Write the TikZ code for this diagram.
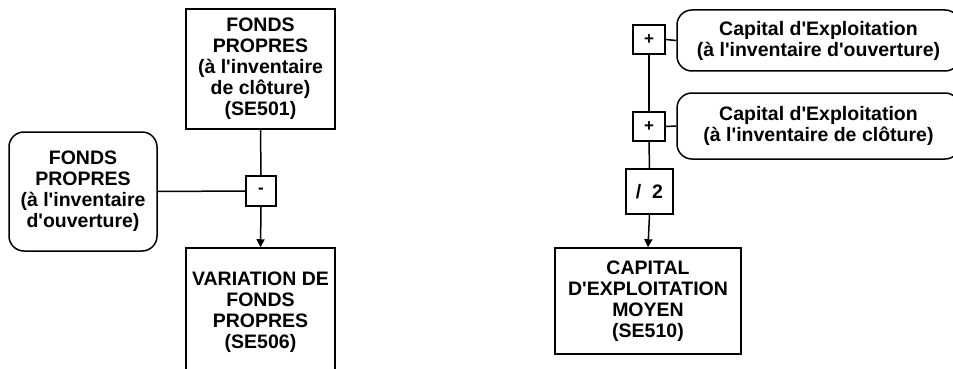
\documentclass[tikz,border=0pt]{standalone}
\usepackage{fontspec}
\setmainfont{Liberation Sans}[Ligatures=TeXOff]
\usetikzlibrary{arrows.meta}
\begin{document}
\begin{tikzpicture}[x=1pt,y=-1pt,
  every node/.style={font=\bfseries\fontsize{19.5}{21}\selectfont, align=center, inner sep=0pt, line width=1.5pt},
  sqbox/.style={draw, rectangle},
  rbox/.style={draw, rectangle, rounded corners=15pt},
  opbox/.style={draw, rectangle, font=\bfseries\fontsize{17}{19}\selectfont},
  conn/.style={line width=1.5pt},
  arr/.style={line width=1.5pt, -{Triangle[width=8pt,length=8pt]}}
]
\clip (0,0) rectangle (953,369);
\fill[white] (0,0) rectangle (953,369);

% left diagram
\node[sqbox, minimum width=149pt, minimum height=120pt] (top1) at (260.5,69) {FONDS\\PROPRES\\(à l'inventaire\\de clôture)\\(SE501)};
\node[rbox, minimum width=148pt, minimum height=119pt] (left1) at (83,191.5) {FONDS\\PROPRES\\(à l'inventaire\\d'ouverture)};
\node[opbox, minimum width=30pt, minimum height=30pt] (minus) at (261,191) {-};
\node[sqbox, minimum width=149pt, minimum height=128pt] (bot1) at (260.5,312) {VARIATION DE\\FONDS\\PROPRES\\(SE506)};

\draw[conn] (top1.south) -- (minus.north);
\draw[conn] (left1.east) -- (minus.west);
\draw[arr] (minus.south) -- (bot1.north);

% right diagram
\node[opbox, minimum width=32pt, minimum height=29pt] (plus1) at (649,39.5) {+};
\node[rbox, minimum width=283pt, minimum height=61pt] (cap1) at (818.5,40.5) {Capital d'Exploitation\\(à l'inventaire d'ouverture)};
\node[opbox, minimum width=32pt, minimum height=29pt] (plus2) at (649,126.5) {+};
\node[rbox, minimum width=283pt, minimum height=66pt] (cap2) at (818.5,126) {Capital d'Exploitation\\(à l'inventaire de clôture)};
\node[sqbox, minimum width=47pt, minimum height=45pt] (div) at (649.5,191.5) {/\ \ 2};
\node[sqbox, minimum width=186pt, minimum height=106pt] (bot2) at (648,301) {CAPITAL\\D'EXPLOITATION\\MOYEN\\(SE510)};

\draw[conn] (plus1.east) -- (cap1.west);
\draw[conn] (plus2.east) -- (cap2.west);
\draw[conn] (plus1.south) -- (plus2.north);
\draw[conn] (plus2.south) -- (div.north);
\draw[arr] (div.south) -- (bot2.north);
\end{tikzpicture}
\end{document}
